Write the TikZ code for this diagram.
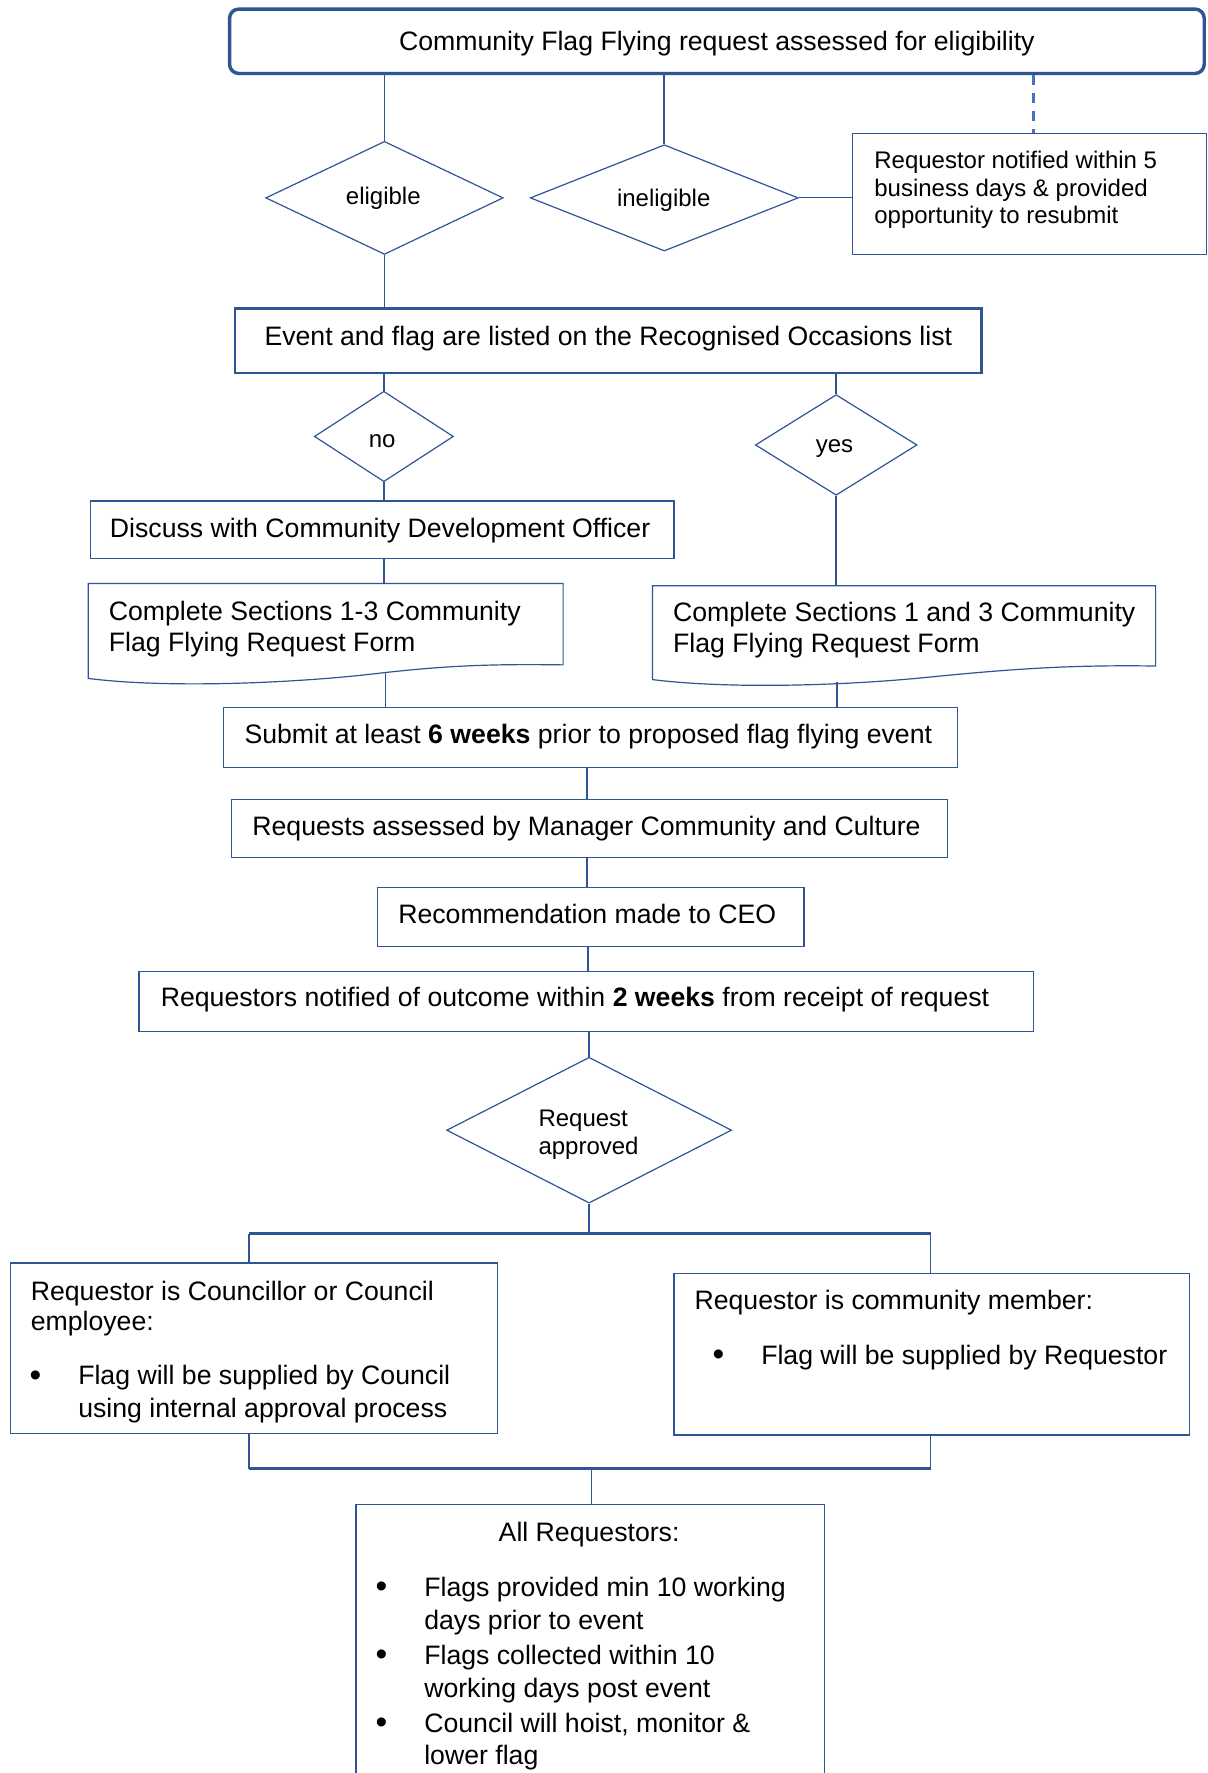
\documentclass[tikz,border=0pt]{standalone}
\usepackage{fontspec}
\setmainfont{Liberation Sans}
\usetikzlibrary{fit,shapes.geometric}
\definecolor{dblue}{HTML}{2F5597}
\definecolor{lblue}{HTML}{4472C4}
\begin{document}
\begin{tikzpicture}[x=0.84833pt,y=-0.84833pt,
  box/.style={draw=dblue, line width=0.9pt, inner sep=0pt},
  ghost/.style={inner sep=0pt},
  dia/.style={draw=dblue, line width=0.9pt, diamond, inner sep=0pt},
  conn/.style={draw=dblue, line width=1.25pt},
  bar/.style={draw=dblue, line width=2.2pt},
  big/.style={font=\fontsize{20}{22.9}\selectfont, inner sep=0pt},
  bigitem/.style={font=\fontsize{20}{24.6}\selectfont, inner sep=0pt, align=left},
  small/.style={font=\fontsize{18}{20.8}\selectfont, inner sep=0pt},
  bul/.style={font=\fontsize{25}{25}\selectfont, inner sep=0pt, anchor=base west},
  ]
\useasboundingbox[fill=white] (0,0) rectangle (1068,1568);

% ---- top box
\node[box, line width=2.6pt, rounded corners=7pt, fit={(203,8) (1065,65)}] (top) {};
\node[big, anchor=base] (toptxt) at (634,44.5) {Community Flag Flying request assessed for eligibility};

% ---- eligibility diamonds
\node[dia, minimum width=210*0.84833pt, minimum height=100*0.84833pt] (elig) at (340,175) {};
\node[small, anchor=base] (eligtxt) at (339,180.6) {eligible};
\node[dia, minimum width=237*0.84833pt, minimum height=94*0.84833pt] (inelig) at (587.5,175) {};
\node[small, anchor=base] (ineligtxt) at (587,182.6) {ineligible};

% ---- notification box
\node[box, line width=0.8pt, fit={(754,118) (1067,225)}] (notif) {};
\node[small, anchor=north west, align=left] (notiftxt) at (773,133.4) {Requestor notified within 5\\business days \& provided\\opportunity to resubmit};

% ---- event box
\node[box, line width=1.8pt, fit={(208,273) (868,330)}] (event) {};
\node[big, anchor=base] (eventtxt) at (538,305.5) {Event and flag are listed on the Recognised Occasions list};

% ---- no / yes
\node[dia, minimum width=123*0.84833pt, minimum height=80*0.84833pt] (no) at (339.5,386) {};
\node[small, anchor=base] (notxt) at (338,395.6) {no};
\node[dia, minimum width=143*0.84833pt, minimum height=89*0.84833pt] (yes) at (739.5,393.5) {};
\node[small, anchor=base] (yestxt) at (738,400.6) {yes};

% ---- discuss
\node[box, line width=1.1pt, fit={(80,443) (596,494)}] (disc) {};
\node[big, anchor=base west] (disctxt) at (97,475.5) {Discuss with Community Development Officer};

% ---- document shapes
\node[ghost, fit={(78,516) (498,600)}] (c1) {};
\draw[draw=dblue, line width=0.9pt] (78,600) -- (78,516) -- (498,516) -- (498,588)
  .. controls (430,587) and (390,589) .. (330,596)
  .. controls (260,604) and (150,609) .. (78,600) -- cycle;
\coordinate (c1b) at (341,595);
\node[big, anchor=north west, align=left] (c1txt) at (96,531.5) {Complete Sections 1-3 Community\\Flag Flying Request Form};

\node[ghost, fit={(577,518) (1022,603)}] (c2) {};
\draw[draw=dblue, line width=0.9pt] (577,601) -- (577,518) -- (1022,518) -- (1022,589)
  .. controls (950,588) and (900,591) .. (820,599)
  .. controls (740,607) and (640,609) .. (577,601) -- cycle;
\coordinate (c2b) at (740,603);
\node[big, anchor=north west, align=left] (c2txt) at (595,532.5) {Complete Sections 1 and 3 Community\\Flag Flying Request Form};

% ---- process chain
\node[box, fit={(198,626) (847,679)}] (submit) {};
\node[big, anchor=base west] (submittxt) at (216,657.5) {Submit at least \textbf{6 weeks} prior to proposed flag flying event};
\node[box, fit={(205,707) (838,758)}] (req) {};
\node[big, anchor=base west] (reqtxt) at (223,738.5) {Requests assessed by Manager Community and Culture};
\node[box, fit={(334,785) (711,837)}] (recom) {};
\node[big, anchor=base west] (recomtxt) at (352,816.5) {Recommendation made to CEO};
\node[box, line width=1.1pt, fit={(123,859) (914,912)}] (notified) {};
\node[big, anchor=base west] (notifiedtxt) at (142,890.5) {Requestors notified of outcome within \textbf{2 weeks} from receipt of request};

\node[dia, minimum width=252*0.84833pt, minimum height=129*0.84833pt] (appr) at (521,999.5) {};
\node[small, anchor=north west, align=left] (apprtxt) at (476,981.4) {Request\\approved};

% ---- outcome boxes
\node[box, fit={(9,1117) (440,1268)}] (coun) {};
\node[big, anchor=north west, align=left] (counhead) at (27,1132.5) {Requestor is Councillor or Council\\employee:};
\node[bul] (counbul) at (26,1226) {•};
\node[bigitem, anchor=north west] (counitem) at (69,1207.5) {Flag will be supplied by Council\\using internal approval process};

\node[box, fit={(596,1126) (1052,1269)}] (comm) {};
\node[big, anchor=base west] (commhead) at (614,1158.5) {Requestor is community member:};
\node[bul] (commbul) at (630,1208) {•};
\node[big, anchor=base west] (commitem) at (673,1206.5) {Flag will be supplied by Requestor};

\node[ghost, fit={(315,1331) (729,1568)}] (all) {};
\draw[draw=dblue, line width=0.9pt] ([yshift=-5pt]all.south west) -- (all.north west) -- (all.north east) -- ([yshift=-5pt]all.south east);
\node[big, anchor=base] (allhead) at (521,1363.5) {All Requestors:};
\node[bul] (allb1) at (332,1413) {•};
\node[bigitem, anchor=north west] (alli1) at (375,1394.5) {Flags provided min 10 working\\days prior to event};
\node[bul] (allb2) at (332,1473) {•};
\node[bigitem, anchor=north west] (alli2) at (375,1454.5) {Flags collected within 10\\working days post event};
\node[bul] (allb3) at (332,1533) {•};
\node[bigitem, anchor=north west] (alli3) at (375,1514.5) {Council will hoist, monitor \&\\lower flag};

% ---- connectors
\draw[conn] (top.south -| elig.north) -- (elig.north);
\draw[conn] (top.south -| inelig.north) -- (inelig.north);
\coordinate (dash) at (914,118);
\draw[draw=lblue, line width=1.9pt, dash pattern=on 7.5pt off 6pt] (top.south -| dash) -- (dash);
\draw[conn, line width=0.9pt] (inelig.east) -- (inelig.east -| notif.west);
\draw[conn] (elig.south) -- (elig.south |- event.north);
\draw[conn] (event.south -| no.north) -- (no.north);
\draw[conn] (event.south -| yes.north) -- (yes.north);
\draw[conn] (no.south) -- (no.south |- disc.north);
\draw[conn] (disc.south -| no.south) -- (c1.north -| no.south);
\draw[conn] (yes.south) -- (yes.south |- c2.north);
\draw[conn] (c1b) -- (c1b |- submit.north);
\draw[conn] (c2b) -- (c2b |- submit.north);
\coordinate (colA) at (519,700);
\draw[conn] (submit.south -| colA) -- (req.north -| colA);
\draw[conn] (req.south -| colA) -- (recom.north -| colA);
\coordinate (colB) at (520,850);
\draw[conn] (recom.south -| colB) -- (notified.north -| colB);
\draw[conn] (notified.south -| appr.north) -- (appr.north);

\coordinate (brt) at (521,1091);
\coordinate (btl) at (220,1091);
\coordinate (btr) at (823,1091);
\draw[conn] (appr.south) -- (brt);
\draw[conn] (coun.north -| btl) -- (btl);
\draw[conn] (comm.north -| btr) -- (btr);
\draw[bar] (btl) -- (btr);

\coordinate (bbl) at (220,1299);
\coordinate (bbr) at (823,1299);
\coordinate (bbm) at (523,1299);
\draw[conn] (coun.south -| bbl) -- (bbl);
\draw[conn] (comm.south -| bbr) -- (bbr);
\draw[bar] (bbl) -- (bbr);
\draw[conn] (bbm) -- (all.north -| bbm);
\end{tikzpicture}
\end{document}
